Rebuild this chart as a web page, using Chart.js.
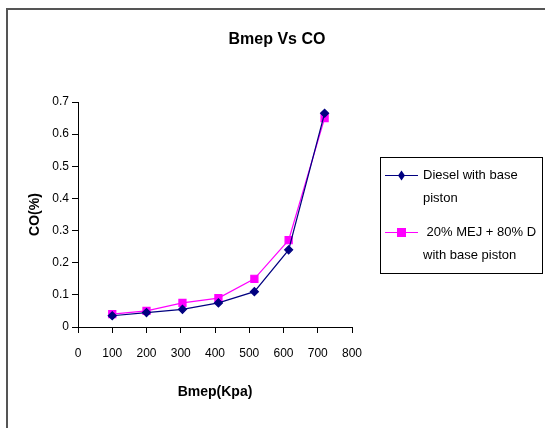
<!DOCTYPE html>
<html lang="en">
<head>
<meta charset="UTF-8">
<title>Bmep Vs CO</title>
<style>
  body { margin: 0; background: #fff; }
  #wrap { position: relative; width: 545px; height: 428px; }
  #frame { position: absolute; left: 6px; top: 8px; right: 0; bottom: 0;
           border-top: 2px solid #555; border-left: 2px solid #555; }
  canvas { position: absolute; left: 0; top: 0; }
</style>
</head>
<body>
<div id="wrap">
  <div id="frame"></div>
  <canvas id="canvas" width="545" height="428"></canvas>
</div>
<script src="https://cdn.jsdelivr.net/npm/chart.js@4/dist/chart.umd.min.js"></script>
<script>
'use strict';

var FONT = '"Liberation Sans Narrow", "Arial Narrow", "Liberation Sans", Arial, sans-serif';

// data
var bmep = [100, 200, 305, 410, 515, 615, 720];
var dieselCO = [0.035, 0.045, 0.055, 0.075, 0.11, 0.24, 0.665];
var blendCO = [0.04, 0.05, 0.075, 0.09, 0.15, 0.27, 0.65];
var seriesNames = [['Diesel with base', 'piston'], [' 20% MEJ + 80% D', 'with base piston']];

function toPoints(xs, ys) {
  return xs.map(function(x, i) { return { x: x, y: ys[i] }; });
}

// title + boxed legend drawn on the canvas
var extras = {
  id: 'extras',
  afterDraw: function(chart) {
    var ctx = chart.ctx;
    ctx.save();
    ctx.fillStyle = '#000';
    ctx.font = 'bold 16px ' + FONT;
    ctx.textAlign = 'center';
    ctx.textBaseline = 'middle';
    ctx.fillText('Bmep Vs CO', 277, 40);

    ctx.strokeStyle = '#000';
    ctx.lineWidth = 1;
    ctx.strokeRect(380.5, 157.5, 162, 116);

    var rows = [175, 232];
    ctx.font = '13px ' + FONT;
    ctx.textAlign = 'left';
    chart.data.datasets.forEach(function(ds, i) {
      var y = rows[i];
      ctx.strokeStyle = ds.borderColor;
      ctx.lineWidth = 1;
      ctx.beginPath();
      ctx.moveTo(385, y + 0.5);
      ctx.lineTo(418, y + 0.5);
      ctx.stroke();
      ctx.fillStyle = ds.pointBackgroundColor;
      if (ds.pointStyle === 'rectRot') {
        ctx.beginPath();
        ctx.moveTo(401.5, y - 4.5);
        ctx.lineTo(405, y + 0.5);
        ctx.lineTo(401.5, y + 5.5);
        ctx.lineTo(398, y + 0.5);
        ctx.closePath();
        ctx.fill();
      } else {
        ctx.fillRect(397, y - 4, 9, 9);
      }
      ctx.fillStyle = '#000';
      ctx.fillText(seriesNames[i][0], 423, y);
      ctx.fillText(seriesNames[i][1], 423, y + 23);
    });
    ctx.restore();
  }
};

var config = {
  type: 'line',
  data: {
    datasets: [{
      label: seriesNames[0].join(' '),
      data: toPoints(bmep, dieselCO),
      borderColor: '#000080',
      backgroundColor: '#000080',
      pointBackgroundColor: '#000080',
      pointBorderColor: '#000080',
      pointStyle: 'rectRot',
      pointRadius: 4,
      borderWidth: 1.2,
      fill: false
    }, {
      label: seriesNames[1].join(' '),
      data: toPoints(bmep, blendCO),
      borderColor: '#ff00ff',
      backgroundColor: '#ff00ff',
      pointBackgroundColor: '#ff00ff',
      pointBorderColor: '#ff00ff',
      pointStyle: 'rect',
      pointRadius: 5,
      borderWidth: 1.2,
      fill: false
    }]
  },
  options: {
    responsive: false,
    animation: false,
    events: [],
    layout: { padding: { top: 102, right: 193, bottom: 0, left: 0 } },
    plugins: {
      legend: { display: false },
      tooltip: { enabled: false }
    },
    scales: {
      x: {
        type: 'linear',
        min: 0,
        max: 800,
        ticks: { stepSize: 100, color: '#000', font: { family: FONT, size: 12 }, maxRotation: 0, padding: 13 },
        grid: { drawOnChartArea: false, drawTicks: true, tickLength: 6, color: '#000' },
        border: { color: '#000', width: 1 },
        title: { display: true, text: 'Bmep(Kpa)', color: '#000', font: { family: FONT, size: 14, weight: 'bold' }, padding: { top: 0, bottom: 27 } },
        afterFit: function(scale) { scale.height = 101; }
      },
      y: {
        min: 0,
        max: 0.7,
        ticks: { stepSize: 0.1, color: '#000', font: { family: FONT, size: 12 }, padding: 3 },
        grid: { drawOnChartArea: false, drawTicks: true, tickLength: 6, color: '#000' },
        border: { color: '#000', width: 1 },
        title: { display: true, text: 'CO(%)', color: '#000', font: { family: FONT, size: 14, weight: 'bold' }, padding: { top: 27, bottom: 0 } },
        afterFit: function(scale) { scale.width = 78; }
      }
    }
  },
  plugins: [extras]
};

var ctx = document.getElementById('canvas').getContext('2d');
var chart = new Chart(ctx, config);
</script>
</body>
</html>
